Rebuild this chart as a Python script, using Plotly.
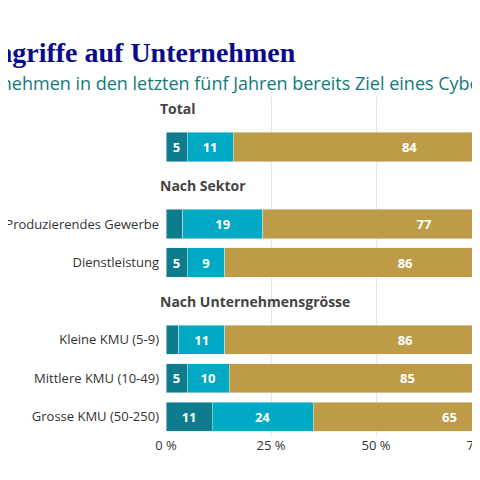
import plotly.graph_objects as go

# rows in display order (header rows carry no bars)
rows = ["h_total", "Total", "h_sektor", "Produzierendes Gewerbe", "Dienstleistung",
        "h_groesse", "Kleine KMU (5-9)", "Mittlere KMU (10-49)", "Grosse KMU (50-250)"]
headers = {"h_total": "Total", "h_sektor": "Nach Sektor", "h_groesse": "Nach Unternehmensgrösse"}

bar_rows = ["Total", "Produzierendes Gewerbe", "Dienstleistung",
            "Kleine KMU (5-9)", "Mittlere KMU (10-49)", "Grosse KMU (50-250)"]
mehrmals = [5, 4, 5, 3, 5, 11]
einmal = [11, 19, 9, 11, 10, 24]
nie = [84, 77, 86, 86, 85, 65]
series = [("Mehrmals", mehrmals, "#0f7c8e"),
          ("Einmal", einmal, "#00a9c4"),
          ("Nie", nie, "#bd9b47")]
x_ticks = [0, 25, 50, 75, 100]

fig = go.Figure()
for name, vals, col in series:
    fig.add_trace(go.Bar(
        y=bar_rows, x=vals, name=name, orientation="h", marker_color=col,
        text=[str(v) if v >= 5 else "" for v in vals], textposition="inside",
        insidetextanchor="middle",
        textfont=dict(color="white", size=13, family="Open Sans", weight="bold"),
        hoverinfo="skip"))

# header rows and the total row carry no y label
ticktext = ["" if (r in headers or r == "Total") else r for r in rows]
fig.update_yaxes(categoryorder="array", categoryarray=rows[::-1], tickvals=rows,
                 ticktext=ticktext, tickfont=dict(size=13, color="#333", family="Open Sans"),
                 showgrid=False, ticks="", ticklabelstandoff=6, automargin=False)
fig.update_xaxes(range=[0, 100], tickvals=x_ticks, ticktext=[f"{t} %" for t in x_ticks],
                 showgrid=True, gridcolor="#e4e4e4", zeroline=False, automargin=False,
                 tickfont=dict(size=13, color="#333", family="Open Sans"))

for key, label in headers.items():
    fig.add_annotation(x=0, xref="paper", xanchor="left", y=key, yref="y",
                       text="<b>" + label + "</b>", showarrow=False,
                       font=dict(size=14, color="#444", family="Open Sans"), xshift=-8)

fig.add_annotation(x=(290 - 158) / 420, xref="paper", xanchor="right", y=1, yref="paper",
                   yshift=62, text="<b>Cyberangriffe auf Unternehmen</b>", showarrow=False,
                   font=dict(size=28, color="#0a0a8c", family="Liberation Serif"))
fig.add_annotation(x=0, xref="paper", xanchor="left", xshift=-282, y=1, yref="paper",
                   yshift=28,
                   text="War Ihr Unternehmen in den letzten fünf Jahren bereits Ziel eines Cyberangriffs?",
                   showarrow=False, font=dict(size=18, color="#137a7a", family="Open Sans"))

fig.update_layout(
    barmode="stack", bargap=0.24, showlegend=False,
    width=600, height=480, margin=dict(l=158, r=22, t=89, b=52, autoexpand=False),
    plot_bgcolor="white", paper_bgcolor="white")

fig.write_html("out.html")
